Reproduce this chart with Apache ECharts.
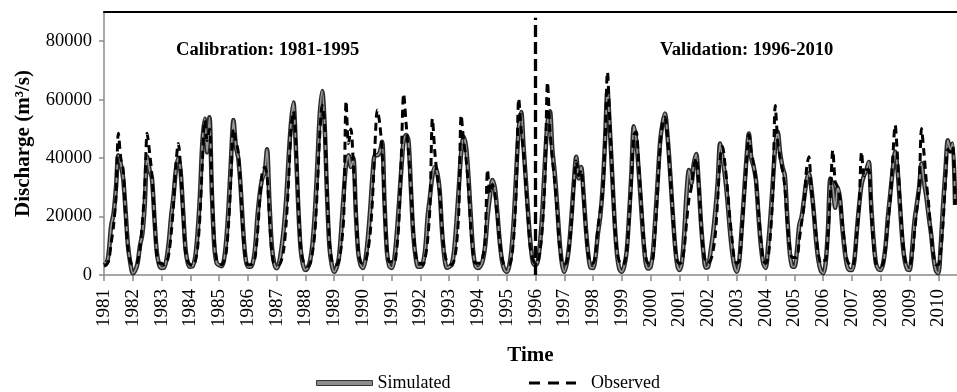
<!DOCTYPE html>
<html>
<head>
<meta charset="utf-8">
<script src="https://cdn.jsdelivr.net/npm/echarts@6/dist/echarts.min.js"></script>
<style>
  html, body { margin: 0; padding: 0; background: #fff; }
  #chart { width: 957px; height: 392px; }
</style>
</head>
<body>
<div id="chart"></div>
<script>
// Monthly discharge (m3/s), one row per year, January first.
const startYear = 1981;
const splitYear = 1996;      // start of the validation period
const splitLineTop = 88000;  // height of the period divider

const simCalibration = [
  4500, 4000, 8000, 17000, 21000, 30000, 41000, 38000, 33000, 22000, 10000, 4000,   // 1981
  600, 1500, 4000, 10000, 14000, 24000, 40500, 36000, 33000, 20000, 8000, 3500,     // 1982
  2400, 2500, 5000, 11000, 20000, 27000, 36000, 40000, 35000, 22000, 9000, 4000,    // 1983
  2800, 3000, 6000, 14000, 27000, 45000, 53500, 42000, 54000, 28000, 10000, 4000,   // 1984
  3400, 3000, 5000, 12000, 24000, 40000, 53000, 44000, 40000, 30000, 16000, 6000,   // 1985
  2800, 2800, 4000, 9000, 20000, 28000, 33000, 35000, 43000, 25000, 10000, 4000,    // 1986
  2300, 4000, 9000, 16000, 26000, 40000, 52000, 59000, 44000, 24000, 9000, 3500,    // 1987
  1700, 2500, 5000, 11000, 22000, 38000, 55000, 63000, 52000, 28000, 10000, 3500,   // 1988
  1100, 2500, 6000, 16000, 28000, 38000, 41000, 37000, 40000, 22000, 8000, 3500,    // 1989
  2400, 5000, 12000, 22000, 34000, 41000, 41000, 42000, 45600, 25000, 8000, 3000,   // 1990
  2400, 5000, 13000, 24000, 36000, 46000, 47900, 46000, 30000, 14000, 6000, 2800,   // 1991
  2800, 4000, 9000, 20000, 27000, 34000, 37000, 35000, 29000, 15000, 6000, 2500,    // 1992
  2800, 3500, 8000, 18000, 30000, 42000, 47300, 44000, 34000, 20000, 8000, 3000,    // 1993
  2400, 3000, 5000, 10000, 20000, 27000, 32500, 30000, 22000, 12000, 5000, 1800,    // 1994
  1100, 3000, 9000, 20000, 36000, 50000, 55800, 44000, 32000, 20000, 10000, 4000    // 1995
];

const simValidation = [
  3400, 5000, 12000, 24000, 40000, 52000, 56000, 43000, 35000, 24000, 12000, 4000,  // 1996
  1100, 4000, 10000, 20000, 32000, 40500, 33000, 37000, 28000, 16000, 7000, 2500,   // 1997
  2400, 6000, 14000, 20000, 30000, 46000, 63000, 50000, 34000, 18000, 7000, 2000,   // 1998
  1100, 3000, 8000, 20000, 35000, 50900, 46000, 36000, 24000, 12000, 4000, 2200,    // 1999
  2800, 8000, 20000, 33000, 46000, 52000, 55300, 48000, 37000, 24000, 12000, 4000,  // 2000
  1700, 4000, 14000, 28000, 35900, 31300, 38000, 41400, 32000, 18000, 8000, 2500,   // 2001
  2800, 8000, 14000, 22000, 32000, 45000, 40000, 34000, 26000, 16000, 8000, 3000,   // 2002
  1100, 5000, 16000, 28000, 40000, 48400, 40000, 37000, 32000, 20000, 10000, 4000,  // 2003
  2400, 10000, 20000, 32000, 44000, 49000, 42000, 37000, 34000, 20000, 8000, 3000,  // 2004
  2800, 8000, 17000, 20000, 26000, 32000, 34800, 30000, 22000, 12000, 5000, 1500,   // 2005
  600, 4000, 16000, 33000, 30000, 23000, 30000, 26000, 16000, 8000, 3000, 1700,     // 2006
  1700, 5000, 15000, 24000, 31000, 34000, 36000, 38700, 24000, 12000, 4000, 2000,   // 2007
  1700, 4000, 10000, 20000, 28000, 36000, 42200, 36000, 24000, 12000, 5000, 2000,   // 2008
  1700, 8000, 18000, 24000, 30000, 38200, 32000, 26800, 20000, 14000, 6000, 1500,   // 2009
  600, 10000, 24000, 36000, 46100, 43000, 45000, 24000                              // 2010
];

const obsCalibration = [
  3000, 3500, 5000, 11000, 17000, 27000, 48500, 40000, 36000, 20000, 9000, 4500,    // 1981
  3500, 3500, 4500, 9000, 18000, 30000, 48500, 42000, 34000, 20000, 7000, 4000,     // 1982
  4000, 3500, 4000, 7000, 14000, 24000, 38000, 45000, 36000, 20000, 8000, 4500,     // 1983
  3500, 3200, 4500, 9000, 20000, 38000, 53000, 46000, 50000, 30000, 12000, 5000,    // 1984
  4000, 3500, 4500, 8000, 18000, 34000, 50000, 46000, 42000, 30000, 14000, 6000,    // 1985
  3500, 3500, 4000, 6000, 14000, 26000, 35000, 37000, 34000, 20000, 8000, 4000,     // 1986
  4000, 3500, 5000, 9000, 18000, 32000, 50000, 56000, 46000, 26000, 10000, 5000,    // 1987
  3500, 3000, 4000, 8000, 15000, 30000, 48000, 58000, 52000, 30000, 12000, 5000,    // 1988
  3500, 3500, 5000, 10000, 20000, 59500, 45000, 50000, 38000, 24000, 9000, 4500,    // 1989
  4000, 4500, 8000, 14000, 26000, 44000, 56500, 52000, 42000, 24000, 9000, 4500,    // 1990
  4500, 4000, 8000, 18000, 40000, 62000, 52000, 42000, 30000, 16000, 7000, 4000,    // 1991
  4000, 3500, 6000, 12000, 24000, 53500, 42000, 34000, 28000, 16000, 8000, 4500,    // 1992
  4000, 3500, 5000, 10000, 22000, 54700, 46000, 40000, 30000, 16000, 7000, 4000,    // 1993
  4000, 4000, 6000, 12000, 36000, 28000, 31000, 28000, 20000, 12000, 6000, 3500,    // 1994
  3500, 3500, 6000, 14000, 30000, 60400, 50000, 42000, 30000, 18000, 8000, 5000     // 1995
];

const obsValidation = [
  4000, 4500, 9000, 18000, 34000, 66000, 50000, 40000, 32000, 22000, 10000, 4500,   // 1996
  3500, 4500, 9000, 18000, 30000, 39000, 34000, 36000, 27000, 15000, 7000, 4000,    // 1997
  4000, 7000, 16000, 22000, 28000, 45000, 69500, 52000, 34000, 18000, 8000, 4500,   // 1998
  3500, 4000, 8000, 18000, 32000, 48000, 49000, 38000, 26000, 14000, 6000, 4000,    // 1999
  4000, 6000, 16000, 30000, 44000, 52000, 54000, 48000, 36000, 24000, 12000, 5000,  // 2000
  4000, 4500, 9000, 18000, 26000, 30000, 37000, 40000, 32000, 18000, 8000, 4500,    // 2001
  4000, 5000, 8000, 14000, 26000, 40000, 44000, 38000, 30000, 20000, 12000, 5000,   // 2002
  4000, 5000, 14000, 26000, 38000, 48000, 42000, 38000, 32000, 22000, 12000, 5000,  // 2003
  4000, 6000, 14000, 28000, 58000, 46000, 40000, 36000, 30000, 18000, 10000, 6000,  // 2004
  6000, 6000, 12000, 18000, 24000, 36000, 40500, 30000, 22000, 14000, 7000, 4000,   // 2005
  5000, 5000, 14000, 28000, 42700, 32000, 30000, 26000, 18000, 10000, 5000, 3500,   // 2006
  3000, 5000, 14000, 24000, 42200, 34000, 36000, 36000, 22000, 10000, 4000, 3000,   // 2007
  3000, 4000, 9000, 18000, 26000, 40000, 51300, 40000, 26000, 14000, 6000, 3500,    // 2008
  3500, 6000, 14000, 22000, 30000, 50100, 42000, 32000, 24000, 14000, 7000, 3500,   // 2009
  3500, 8000, 18000, 32000, 43000, 42000, 44000, 24000                              // 2010
];

const tickYears = [
  1981, 1982, 1983, 1984, 1985, 1986, 1987, 1988, 1989, 1990,
  1991, 1992, 1993, 1994, 1995, 1996, 1997, 1998, 1999, 2000,
  2001, 2002, 2003, 2004, 2005, 2006, 2007, 2008, 2009, 2010
];
const yTicks = [0, 20000, 40000, 60000, 80000];

const FONT = '"Liberation Serif", "Times New Roman", serif';
const AXIS_GREY = '#8a8a8a';

const simulated = simCalibration.concat(simValidation);
const observed = obsCalibration.concat(obsValidation);
const toPoints = vals => vals.map((v, i) => [startYear + i / 12, v]);

const chart = echarts.init(document.getElementById('chart'), null, { renderer: 'canvas' });

chart.setOption({
  animation: false,
  backgroundColor: '#ffffff',
  textStyle: { fontFamily: FONT, color: '#000' },
  grid: { left: 104, right: 0, top: 12, bottom: 117, outerBoundsMode: 'none' },
  xAxis: [{
    type: 'value',
    min: 1981,
    max: 2010.65,
    interval: 1,
    name: 'Time',
    nameLocation: 'middle',
    nameGap: 70,
    nameTextStyle: { fontFamily: FONT, fontWeight: 'bold', fontSize: 21, color: '#000' },
    axisLine: { show: true, lineStyle: { color: AXIS_GREY, width: 1.5 } },
    axisTick: { show: true, length: 6, lineStyle: { color: AXIS_GREY, width: 1.5 }, customValues: tickYears },
    axisLabel: {
      rotate: 90, margin: 14, fontSize: 19, color: '#000', fontFamily: FONT,
      customValues: tickYears,
      formatter: v => (Number.isInteger(v) ? String(v) : '')
    },
    splitLine: { show: false }
  }, {
    type: 'value',
    position: 'top',
    min: 1981,
    max: 2010.65,
    axisLine: { show: true, onZero: false, lineStyle: { color: '#000', width: 2 } },
    axisTick: { show: false },
    axisLabel: { show: false },
    splitLine: { show: false }
  }],
  yAxis: {
    type: 'value',
    min: 0,
    max: 90000,
    interval: 20000,
    name: 'Discharge (m³/s)',
    nameLocation: 'middle',
    nameGap: 70,
    nameTextStyle: { fontFamily: FONT, fontWeight: 'bold', fontSize: 21, color: '#000' },
    axisLine: { show: true, lineStyle: { color: AXIS_GREY, width: 1.5 } },
    axisTick: { show: true, length: 5, lineStyle: { color: AXIS_GREY, width: 1.5 }, customValues: yTicks },
    axisLabel: {
      margin: 12, fontSize: 18.5, color: '#000', fontFamily: FONT,
      customValues: yTicks,
      formatter: v => String(v)
    },
    splitLine: { show: false }
  },
  legend: [{
    left: 316, top: 374, padding: 0,
    itemWidth: 56, itemHeight: 5,
    textStyle: { fontFamily: FONT, fontSize: 18, color: '#000' },
    data: [{ name: 'Simulated', icon: 'rect', itemStyle: { color: '#8c8c8c', borderColor: '#333', borderWidth: 1 } }]
  }, {
    left: 529, top: 374, padding: 0,
    itemWidth: 47, itemHeight: 3,
    textStyle: { fontFamily: FONT, fontSize: 18, color: '#000', padding: [0, 0, 0, 10] },
    data: [{ name: 'Observed', icon: 'path://M0,0H11V3H0Z M19,0H30V3H19Z M37,0H47V3H37Z', itemStyle: { color: '#000' } }]
  }],
  graphic: [
    { type: 'text', left: 176, top: 41, style: { text: 'Calibration: 1981-1995', font: 'bold 18.6px ' + FONT, fill: '#000' } },
    { type: 'text', left: 660, top: 41, style: { text: 'Validation: 1996-2010', font: 'bold 18.6px ' + FONT, fill: '#000' } }
  ],
  series: [{
    // dark outer stroke of the simulated line
    name: 'Simulated',
    type: 'line',
    data: toPoints(simulated),
    showSymbol: false,
    symbol: 'none',
    smooth: 0.3,
    lineStyle: { color: '#2a2a2a', width: 4.5 },
    z: 2
  }, {
    // lighter core of the simulated line
    name: 'Simulated',
    type: 'line',
    data: toPoints(simulated),
    showSymbol: false,
    symbol: 'none',
    smooth: 0.3,
    lineStyle: { color: '#9a9a9a', width: 1.6 },
    z: 3
  }, {
    name: 'Observed',
    type: 'line',
    data: toPoints(observed),
    showSymbol: false,
    symbol: 'none',
    smooth: 0.3,
    lineStyle: { color: '#000', width: 3, type: [8, 5] },
    z: 4,
    markLine: {
      silent: true,
      symbol: 'none',
      label: { show: false },
      lineStyle: { color: '#000', width: 3.3, type: [12, 5] },
      data: [[{ coord: [splitYear, 0] }, { coord: [splitYear, splitLineTop] }]]
    }
  }]
});
</script>
</body>
</html>
